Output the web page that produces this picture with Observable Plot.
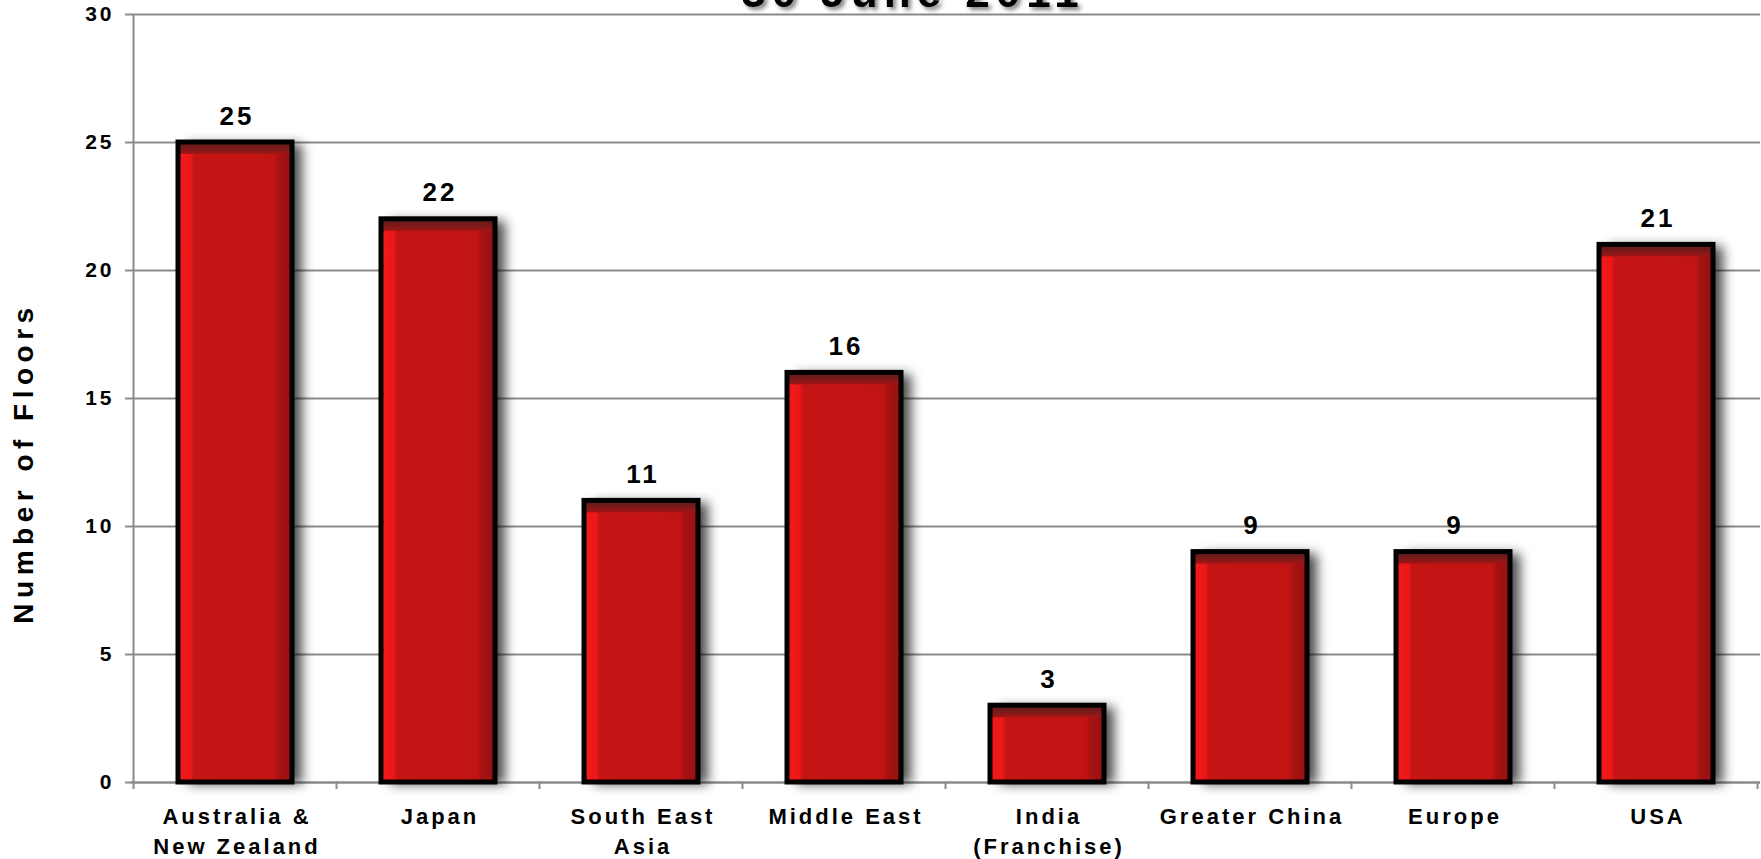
<!DOCTYPE html>
<html>
<head>
<meta charset="utf-8">
<script src="https://cdn.jsdelivr.net/npm/d3@7"></script>
<script src="https://cdn.jsdelivr.net/npm/@observablehq/plot@0.6"></script>
<style>
  html, body { margin: 0; padding: 0; background: white; }
  #chart svg { display: block; font-family: "Liberation Sans", Arial, sans-serif; }
</style>
</head>
<body>
<div id="chart"></div>
<script>
const categories = ["Australia &\nNew Zealand", "Japan", "South East\nAsia", "Middle East", "India\n(Franchise)", "Greater China", "Europe", "USA"];
const floors = [25, 22, 11, 16, 3, 9, 9, 21];
const yTicks = [0, 5, 10, 15, 20, 25, 30];
const titleText = "30 June 2011";
const yLabel = "Number of Floors";

const data = categories.map((c, i) => ({category: c, value: floors[i]}));
const grid = "#8a8a8a";

const plot = Plot.plot({
  width: 1761,
  height: 859,
  marginLeft: 131,
  marginRight: 1,
  marginTop: 14,
  marginBottom: 77,
  style: {background: "white", overflow: "hidden"},
  x: {domain: categories, paddingInner: 0.44, paddingOuter: 0.22, axis: null},
  y: {domain: [0, 30], axis: null},
  marks: [
    Plot.gridY(yTicks, {stroke: grid, strokeOpacity: 1, strokeWidth: 2}),
    Plot.axisY(yTicks, {label: null, tickSize: 6, tickPadding: 11, fontSize: 21, fontWeight: "bold", stroke: grid, strokeWidth: 2, fill: "black", tickFormat: d => String(d)}),
    Plot.ruleY([0], {stroke: grid, strokeWidth: 2}),
    // bar body with horizontal bevel gradient (shadow applied later)
    Plot.barY(data, {x: "category", y: "value", fill: "url(#barH)"}),
    // top bevel
    Plot.barY(data, {x: "category", y1: "value", y2: "value", insetBottom: -12, fill: "url(#barV)"}),
    // outline
    Plot.barY(data, {x: "category", y: "value", fill: "none", stroke: "black", strokeWidth: 5}),
    // value labels
    Plot.text(data, {x: "category", y: "value", text: d => String(d.value), lineAnchor: "bottom", dy: -18, dx: 1.5, fontSize: 26, fontWeight: "bold", fill: "black"}),
    // category labels
    Plot.text(categories, {x: d => d, text: d => d, frameAnchor: "bottom", lineAnchor: "top", dy: 20, dx: 1.5, fontSize: 22, fontWeight: "bold", lineHeight: 1.36, fill: "black"}),
    // title (cut off at top like the reference)
    Plot.text([titleText], {frameAnchor: "top", text: d => d, lineAnchor: "bottom", dx: -33, dy: -8, fontSize: 44, fontWeight: "bold", fill: "black"}),
    // y label
    Plot.text([yLabel], {frameAnchor: "left", textAnchor: "middle", text: d => d, rotate: -90, lineAnchor: "bottom", fontSize: 28, fontWeight: "bold", fill: "black"})
  ]
});

const svg = d3.select(plot);
const defs = svg.insert("defs", ":first-child");
const gH = defs.append("linearGradient").attr("id", "barH").attr("x1", 0).attr("x2", 1).attr("y1", 0).attr("y2", 0);
[[0, "#f41a1a"], [0.11, "#ec1717"], [0.14, "#c41414"], [0.84, "#c31414"], [0.88, "#a81212"], [1, "#941111"]]
  .forEach(([o, c]) => gH.append("stop").attr("offset", o).attr("stop-color", c));
const gV = defs.append("linearGradient").attr("id", "barV").attr("x1", 0).attr("x2", 0).attr("y1", 0).attr("y2", 1);
[[0, "#621b1b"], [0.5, "#761a1a"], [1, "#a31515"]]
  .forEach(([o, c]) => gV.append("stop").attr("offset", o).attr("stop-color", c));

// text styling: letter spacing
svg.selectAll("text").style("letter-spacing", "3px");
svg.selectAll("g[aria-label='y-axis tick label']").attr("font-size", 21).attr("font-weight", "bold");

// drop shadow on bar bodies
const gs = svg.selectAll("g[aria-label='bar']").nodes();
if (gs.length) d3.select(gs[0]).style("filter", "drop-shadow(10px 2px 6px rgba(0,0,0,0.7))");
const texts = svg.selectAll("g[aria-label='text']").nodes();
if (texts.length >= 4) {
  d3.select(texts[2]).style("filter", "drop-shadow(3px 3px 2px rgba(0,0,0,0.5))")
    .selectAll("text").style("letter-spacing", "6px");
  const yl = d3.select(texts[3]);
  yl.attr("transform", null);
  yl.selectAll("text").style("letter-spacing", "5.5px").attr("text-anchor", "middle").attr("transform", "translate(33,463) rotate(-90)");
}

// y axis line and category boundary ticks from the band scale
const xs = plot.scale("x");
const ys = plot.scale("y");
const step = xs.step;
const x0 = xs.apply(categories[0]) - (step - xs.bandwidth) / 2;
const yTop = ys.apply(30), yBot = ys.apply(0);
const axG = svg.append("g").attr("stroke", grid).attr("stroke-width", 2);
axG.append("line").attr("x1", x0).attr("x2", x0).attr("y1", yTop).attr("y2", yBot + 7);
categories.forEach((c, i) => {
  const xb = x0 + (i + 1) * step;
  axG.append("line").attr("x1", xb).attr("x2", xb).attr("y1", yBot).attr("y2", yBot + 7);
});

document.getElementById("chart").appendChild(plot);
</script>
</body>
</html>
